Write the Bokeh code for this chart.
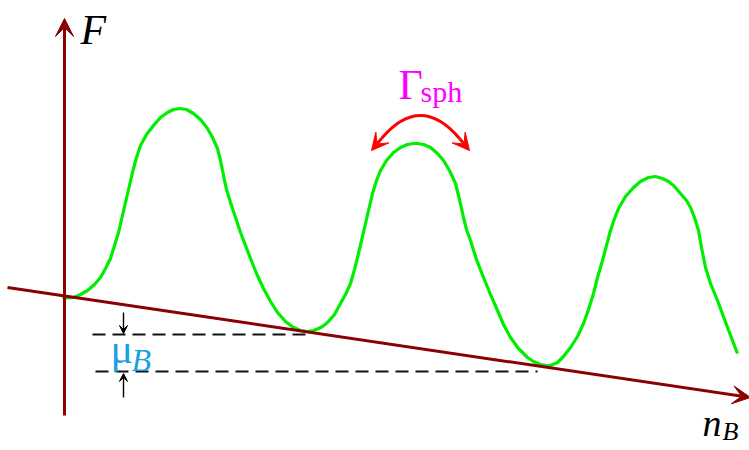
from bokeh.plotting import figure
from bokeh.models import Range1d, Arrow, VeeHead
from bokeh.core.properties import value
from bokeh.embed import file_html
from bokeh.resources import INLINE

# Green free-energy curve (image pixel coordinates)
curve_x = [62, 68, 73, 80, 87, 94, 100, 105, 110, 118, 125, 132, 136, 140, 146, 153, 160, 167, 173, 179,
           186, 193, 200, 207, 212, 217, 220, 223, 226, 230, 235, 240, 245, 250, 256, 263, 270, 277, 285,
           293, 300, 307, 313, 318, 322, 327, 334, 340, 345, 350, 354, 358, 365, 372, 376, 380, 386, 393,
           400, 407, 413, 417, 423, 430, 437, 443, 449, 455, 459, 463, 466, 470, 476, 483, 490, 497, 503,
           510, 518, 527, 533, 540, 546, 550, 557, 563, 570, 577, 583, 588, 593, 597, 602, 606, 610, 614,
           618, 625, 633, 640, 648, 655, 662, 668, 673, 680, 686, 690, 694, 698, 701, 705, 710, 717, 727, 737]
curve_y = [297, 297.5, 297, 294, 290, 284, 277, 268, 258, 232, 202, 172, 157, 145, 134, 125, 117, 112, 109, 108,
           109, 113, 119, 128, 137, 148, 160, 175, 189, 202, 217, 232, 245, 258, 273, 288, 301, 312, 321,
           327, 330, 331, 330, 328, 326, 322, 314, 303, 294, 283, 269, 253, 223, 193, 180, 170, 160, 152,
           147, 144, 143, 143, 144, 147, 153, 160, 170, 183, 199, 217, 229, 240, 259, 277, 294, 310, 324,
           337, 348, 357, 361, 364, 365, 365, 362, 356, 347, 336, 323, 309, 293, 277, 260, 245, 230, 218,
           208, 196, 187, 181, 177, 176, 178, 181, 185, 193, 200, 207, 217, 230, 247, 267, 283, 300, 327, 353]

# Axes (F vertical, n_B sloped)
f_axis = dict(x0=64, y0=415, x1=64, y1=18)
nb_axis = dict(x0=7, y0=287, x1=750, y1=397)

# Dashed levels
dash_x0 = [92, 95]
dash_x1 = [310, 537]
dash_y = [334, 371]

# mu_B small arrows
mu_arrows = [(123, 312, 123, 333), (123, 397, 123, 373)]

# Gamma_sph curved arrow
arc = dict(x0=381, y0=138, x1=459, y1=138, cx=420, cy=92)
arc_heads = [(381, 138, 371, 150), (459, 138, 469, 150)]

DARK = "#8B0000"

p = figure(width=749, height=450, x_range=Range1d(0, 749), y_range=Range1d(450, 0),
           output_backend="svg", toolbar_location=None, min_border=0,
           x_axis_location=None, y_axis_location=None)
p.grid.visible = False
p.outline_line_color = None
p.background_fill_color = "white"
p.border_fill_color = "white"

# dashed lines
p.segment(x0=dash_x0, y0=dash_y, x1=dash_x1, y1=dash_y, line_color="#111111",
          line_width=1.8, line_dash="13 7")

# axes with arrows
p.add_layout(Arrow(x_start=f_axis["x0"], y_start=f_axis["y0"], x_end=f_axis["x1"], y_end=f_axis["y1"],
                   line_color=DARK, line_width=3,
                   end=VeeHead(size=18, fill_color=DARK, line_color=DARK, line_width=1)))
p.add_layout(Arrow(x_start=nb_axis["x0"], y_start=nb_axis["y0"], x_end=nb_axis["x1"], y_end=nb_axis["y1"],
                   line_color=DARK, line_width=3,
                   end=VeeHead(size=18, fill_color=DARK, line_color=DARK, line_width=1)))

# green curve
p.line(curve_x, curve_y, line_color="#00EE00", line_width=3.2, line_join="round")

# mu_B arrows
for xs, ys, xe, ye in mu_arrows:
    p.add_layout(Arrow(x_start=xs, y_start=ys, x_end=xe, y_end=ye, line_color="black", line_width=1.4,
                       end=VeeHead(size=8, fill_color="black", line_color="black", line_width=1)))

# Gamma_sph curved arrow
p.quadratic(x0=[arc["x0"]], y0=[arc["y0"]], x1=[arc["x1"]], y1=[arc["y1"]], cx=[arc["cx"]], cy=[arc["cy"]],
            line_color="#FF0000", line_width=3)
for xs, ys, xe, ye in arc_heads:
    p.add_layout(Arrow(x_start=xs, y_start=ys, x_end=xe, y_end=ye, line_color="#FF0000", line_width=3,
                       end=VeeHead(size=17, fill_color="#FF0000", line_color="#FF0000", line_width=1)))

SERIF = value("Liberation Serif")

def txt(x, y, s, size, color="black", style="normal"):
    p.text(x=[x], y=[y], text=[s], text_font=SERIF, text_font_size=size, text_font_style=style,
           text_color=color, text_align="left", text_baseline="alphabetic")

txt(80, 29, "F", "42px", style="italic")
txt(702, 422, "n", "38px", style="italic")
txt(722, 431, "B", "26px", style="italic")
txt(398, 84, "Γ", "42px", color="#FF00FF")
txt(420, 91, "sph", "30px", color="#FF00FF")
txt(110, 348, "μ", "42px", color="#1BA1E2")
txt(131, 359, "B", "32px", color="#1BA1E2", style="italic")

open("out.html", "w").write(file_html(p, INLINE))
